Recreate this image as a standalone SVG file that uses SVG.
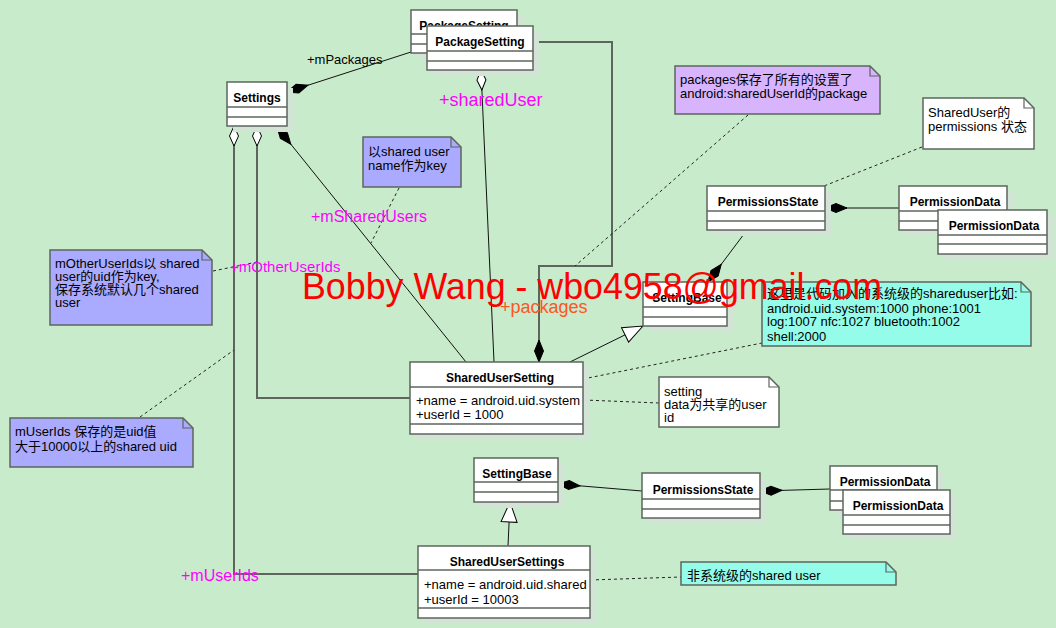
<svg xmlns="http://www.w3.org/2000/svg" width="1056" height="628" viewBox="0 0 1056 628">
<style>
text{font-family:"Liberation Sans","Noto Sans CJK SC",sans-serif;}
.box{fill:#fff;stroke:#5d655d;stroke-width:1.5;}
.sh{fill:#d3e3d5;}
.dv{stroke:#5d655d;stroke-width:1.5;}
.t{font-size:12px;font-weight:bold;fill:#000;text-anchor:middle;}
.a{font-size:13px;fill:#000;}
.n{font-size:13px;fill:#000;}
.note{stroke:#5d655d;stroke-width:1.5;}
.fold{fill:none;stroke:#5d655d;stroke-width:1.2;}
.thin{fill:none;stroke:#111;stroke-width:1;}
.thick{fill:none;stroke:#5d655d;stroke-width:2;}
.dot{fill:none;stroke:#222;stroke-width:1;stroke-dasharray:3,3;}
.mag{fill:#ff00ff;}
</style>
<defs>
<marker id="dF" markerUnits="userSpaceOnUse" orient="auto" refX="0" refY="0" markerWidth="24" markerHeight="12" overflow="visible"><path d="M0,0 L11,-4.5 L22,0 L11,4.5 z" fill="#000" stroke="#000" stroke-width="1"/></marker>
<marker id="dH" markerUnits="userSpaceOnUse" orient="auto" refX="0" refY="0" markerWidth="24" markerHeight="12" overflow="visible"><path d="M0,0 L10,-4.5 L20,0 L10,4.5 z" fill="#fff" stroke="#000" stroke-width="1"/></marker>
<marker id="tH" markerUnits="userSpaceOnUse" orient="auto" refX="0" refY="0" markerWidth="24" markerHeight="16" overflow="visible"><path d="M0,0 L20,-8 L20,8 z" fill="#fff" stroke="#000" stroke-width="1"/></marker>
</defs>
<rect width="1056" height="628" fill="#c8ebcc"/>

<g id="connectors">
<path class="thin" d="M287,92 L411,52" marker-start="url(#dF)"/>
<path class="thin" d="M481,70 L494,362" marker-start="url(#dH)"/>
<path class="thick" d="M539,362 V266 H612 V42 H533" marker-start="url(#dF)"/>
<path class="thick" d="M234,126 V574 H418" marker-start="url(#dH)"/>
<path class="thick" d="M257,126 V398 H410" marker-start="url(#dH)"/>
<path class="thin" d="M277,127 L466,362" marker-start="url(#dF)"/>
<path class="thin" d="M643,326 L570,362" marker-start="url(#tH)"/>
<path class="thin" d="M708,282 L747,230" marker-start="url(#dF)"/>
<path class="thin" d="M825,208 L899,208" marker-start="url(#dF)"/>
<path class="thin" d="M558,484 L642,491" marker-start="url(#dF)"/>
<path class="thin" d="M760,491 L830,489" marker-start="url(#dF)"/>
<path class="thin" d="M510,502 L508,546" marker-start="url(#tH)"/>
<path class="dot" d="M399,188 L371,243"/>
<path class="dot" d="M748,115 L575,266"/>
<path class="dot" d="M922,147 L824,186"/>
<path class="dot" d="M583,379 L762,343"/>
<path class="dot" d="M584,400 L659,403"/>
<path class="dot" d="M213,271 L257,262"/>
<path class="dot" d="M140,417 L234,350"/>
<path class="dot" d="M590,580 L681,577"/>
<text x="307" y="64" style="font-size:13px">+mPackages</text>
<text x="439" y="106" class="mag" style="font-size:18px">+sharedUser</text>
<text x="311" y="222" class="mag" style="font-size:16px">+mSharedUsers</text>
<text x="230" y="272" class="mag" style="font-size:15px">+mOtherUserIds</text>
<text x="500" y="313" style="font-size:18px;fill:#ff5522">+packages</text>
<text x="181" y="581" class="mag" style="font-size:16px">+mUserIds</text>
</g>

<g id="PackageSetting-back">
<rect class="sh" x="417" y="16" width="106" height="43"/>
<rect class="box" x="411" y="10" width="106" height="43"/>
<line class="dv" x1="411" y1="34" x2="517" y2="34"/><line class="dv" x1="411" y1="44" x2="517" y2="44"/>
<text class="t" x="464" y="30">PackageSetting</text>
</g>
<g id="PackageSetting">
<rect class="sh" x="433" y="32" width="106" height="44"/>
<rect class="box" x="427" y="26" width="106" height="44"/>
<line class="dv" x1="427" y1="51" x2="533" y2="51"/><line class="dv" x1="427" y1="61" x2="533" y2="61"/>
<text class="t" x="480" y="46">PackageSetting</text>
</g>
<g id="Settings">
<rect class="sh" x="233" y="88" width="60" height="44"/>
<rect class="box" x="227" y="82" width="60" height="44"/>
<line class="dv" x1="227" y1="107" x2="287" y2="107"/><line class="dv" x1="227" y1="117" x2="287" y2="117"/>
<text class="t" x="257" y="102">Settings</text>
</g>
<g id="SharedUserSetting">
<rect class="sh" x="416" y="368" width="173" height="72"/>
<rect class="box" x="410" y="362" width="173" height="72"/>
<line class="dv" x1="410" y1="387" x2="583" y2="387"/><line class="dv" x1="410" y1="424" x2="583" y2="424"/>
<text class="t" x="500" y="382">SharedUserSetting</text>
<text class="a" x="416" y="405">+name = android.uid.system</text>
<text class="a" x="416" y="419">+userId = 1000</text>
</g>
<g id="SettingBase-1">
<rect class="sh" x="649" y="288" width="84" height="44"/>
<rect class="box" x="643" y="282" width="84" height="44"/>
<line class="dv" x1="643" y1="307" x2="727" y2="307"/><line class="dv" x1="643" y1="317" x2="727" y2="317"/>
<text class="t" x="687" y="302">SettingBase</text>
</g>
<g id="PermissionsState-1">
<rect class="sh" x="713" y="192" width="118" height="44"/>
<rect class="box" x="707" y="186" width="118" height="44"/>
<line class="dv" x1="707" y1="211" x2="825" y2="211"/><line class="dv" x1="707" y1="221" x2="825" y2="221"/>
<text class="t" x="768" y="206">PermissionsState</text>
</g>
<g id="PermissionData-1">
<rect class="sh" x="905" y="192" width="108" height="44"/>
<rect class="box" x="899" y="186" width="108" height="44"/>
<line class="dv" x1="899" y1="211" x2="1007" y2="211"/><line class="dv" x1="899" y1="221" x2="1007" y2="221"/>
<text class="t" x="955" y="206">PermissionData</text>
</g>
<g id="PermissionData-2">
<rect class="sh" x="944" y="216" width="109" height="44"/>
<rect class="box" x="938" y="210" width="109" height="44"/>
<line class="dv" x1="938" y1="235" x2="1047" y2="235"/><line class="dv" x1="938" y1="244" x2="1047" y2="244"/>
<text class="t" x="994" y="230">PermissionData</text>
</g>
<g id="SettingBase-2">
<rect class="sh" x="480" y="464" width="84" height="44"/>
<rect class="box" x="474" y="458" width="84" height="44"/>
<line class="dv" x1="474" y1="482" x2="558" y2="482"/><line class="dv" x1="474" y1="492" x2="558" y2="492"/>
<text class="t" x="517" y="478">SettingBase</text>
</g>
<g id="PermissionsState-2">
<rect class="sh" x="648" y="479" width="118" height="45"/>
<rect class="box" x="642" y="473" width="118" height="45"/>
<line class="dv" x1="642" y1="499" x2="760" y2="499"/><line class="dv" x1="642" y1="509" x2="760" y2="509"/>
<text class="t" x="703" y="494">PermissionsState</text>
</g>
<g id="PermissionData-3">
<rect class="sh" x="836" y="472" width="107" height="44"/>
<rect class="box" x="830" y="466" width="107" height="44"/>
<line class="dv" x1="830" y1="490" x2="937" y2="490"/><line class="dv" x1="830" y1="501" x2="937" y2="501"/>
<text class="t" x="885" y="486">PermissionData</text>
</g>
<g id="PermissionData-4">
<rect class="sh" x="849" y="496" width="107" height="44"/>
<rect class="box" x="843" y="490" width="107" height="44"/>
<line class="dv" x1="843" y1="515" x2="950" y2="515"/><line class="dv" x1="843" y1="525" x2="950" y2="525"/>
<text class="t" x="898" y="510">PermissionData</text>
</g>
<g id="SharedUserSettings">
<rect class="sh" x="424" y="552" width="172" height="72"/>
<rect class="box" x="418" y="546" width="172" height="72"/>
<line class="dv" x1="418" y1="570" x2="590" y2="570"/><line class="dv" x1="418" y1="608" x2="590" y2="608"/>
<text class="t" x="507" y="566">SharedUserSettings</text>
<text class="a" x="424" y="589">+name = android.uid.shared</text>
<text class="a" x="424" y="604">+userId = 10003</text>
</g>

<g id="note-key">
<path class="note" fill="#aaaaff" d="M363,137 H451 L461,147 V187 H363 z"/>
<path class="fold" d="M451,137 V147 H461"/>
<text class="n" x="368" y="156">以shared user</text>
<text class="n" x="368" y="170">name作为key</text>
</g>
<g id="note-packages">
<path class="note" fill="#d7b4fc" d="M675,66 H870 L880,76 V114 H675 z"/>
<path class="fold" d="M870,66 V76 H880"/>
<text class="n" x="680" y="84">packages保存了所有的设置了</text>
<text class="n" x="680" y="98">android:sharedUserId的package</text>
</g>
<g id="note-perm">
<path class="note" fill="#ffffff" d="M923,98 H1024 L1034,108 V149 H923 z"/>
<path class="fold" d="M1024,98 V108 H1034"/>
<text class="n" x="928" y="117">SharedUser的</text>
<text class="n" x="928" y="131">permissions 状态</text>
</g>
<g id="note-system">
<path class="note" fill="#94fce8" d="M762,282 H1021 L1031,292 V346 H762 z"/>
<path class="fold" d="M1021,282 V292 H1031"/>
<text class="n" x="767" y="298">这里是代码加入的系统级的shareduser比如:</text>
<text class="n" x="767" y="313">android.uid.system:1000 phone:1001</text>
<text class="n" x="767" y="326">log:1007 nfc:1027 bluetooth:1002</text>
<text class="n" x="767" y="341">shell:2000</text>
</g>
<g id="note-setting">
<path class="note" fill="#ffffff" d="M659,377 H769 L779,387 V427 H659 z"/>
<path class="fold" d="M769,377 V387 H779"/>
<text class="n" x="664" y="396">setting</text>
<text class="n" x="664" y="409">data为共享的user</text>
<text class="n" x="664" y="422">id</text>
</g>
<g id="note-other">
<path class="note" fill="#aaaaff" d="M50,250 H202 L212,260 V325 H50 z"/>
<path class="fold" d="M202,250 V260 H212"/>
<text class="n" x="55" y="268">mOtherUserIds以 shared</text>
<text class="n" x="55" y="281">user的uid作为key,</text>
<text class="n" x="55" y="294">保存系统默认几个shared</text>
<text class="n" x="55" y="307">user</text>
</g>
<g id="note-userids">
<path class="note" fill="#aaaaff" d="M10,418 H183 L193,428 V467 H10 z"/>
<path class="fold" d="M183,418 V428 H193"/>
<text class="n" x="15" y="436">mUserIds 保存的是uid值</text>
<text class="n" x="15" y="451">大于10000以上的shared uid</text>
</g>
<g id="note-nonsystem">
<path class="note" fill="#94fce8" d="M681,562 H886 L896,572 V585 H681 z"/>
<path class="fold" d="M886,562 V572 H896"/>
<text class="n" x="687" y="580">非系统级的shared user</text>
</g>

<text x="302" y="299" style="font-size:36px;fill:#ff0000" textLength="580" lengthAdjust="spacingAndGlyphs">Bobby Wang - wbo4958@gmail.com</text>
</svg>
